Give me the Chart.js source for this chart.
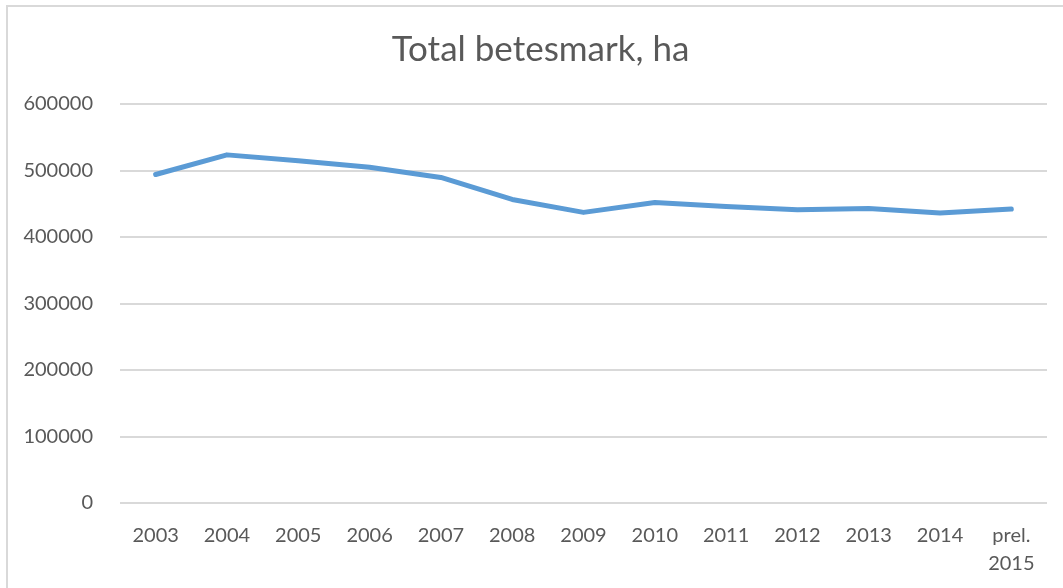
<!DOCTYPE html>
<html>
<head>
<meta charset="utf-8">
<title>Total betesmark, ha</title>
<script src="https://cdn.jsdelivr.net/npm/chart.js@4/dist/chart.umd.min.js"></script>
<style>
    html, body { margin: 0; padding: 0; background: #fff; }
    #wrap { width: 1063px; height: 588px; }
</style>
</head>
<body>
<div id="wrap"><canvas id="betesChart" width="1063" height="588"></canvas></div>
<script>
/* Data */
const years = ["2003", "2004", "2005", "2006", "2007", "2008", "2009",
    "2010", "2011", "2012", "2013", "2014", ["prel.", "2015"]];
const hectares = [494000, 523500, 514500, 505000, 489500, 456500, 437000,
    452000, 446000, 440800, 443000, 436200, 442000];
const yTicks = [0, 100000, 200000, 300000, 400000, 500000, 600000];

const textColor = "#595959";
const gridColor = "#d9d9d9";

// light frame around the chart, like the office chart border
const framePlugin = {
    id: "frame",
    afterLayout(chart) {
        // original chart is cropped on the right, so its title sits a bit right of centre
        if (chart.titleBlock) chart.titleBlock.left += 34;
    },
    beforeDraw(chart) {
        const ctx = chart.ctx;
        ctx.save();
        ctx.strokeStyle = gridColor;
        ctx.lineWidth = 2;
        ctx.strokeRect(7, 6, chart.width + 20, chart.height + 20);
        ctx.restore();
    }
};

const el = document.getElementById("betesChart");
new Chart(el, {
    type: "line",
    data: {
        labels: years,
        datasets: [{
            label: "Total betesmark, ha",
            data: hectares,
            borderColor: "#5b9bd5",
            backgroundColor: "#5b9bd5",
            borderWidth: 5,
            borderCapStyle: "round",
            borderJoinStyle: "round",
            pointRadius: 0,
            tension: 0,
            fill: false
        }]
    },
    options: {
        responsive: false,
        animation: false,
        layout: {
            padding: { left: 0, right: 16, top: 0, bottom: 0 }
        },
        plugins: {
            legend: { display: false },
            tooltip: { enabled: false },
            title: {
                display: true,
                text: "Total betesmark, ha",
                color: textColor,
                font: { family: "Lato", size: 35, weight: "normal" },
                padding: { top: 29, bottom: 33 }
            }
        },
        scales: {
            x: {
                offset: true,
                grid: { display: false },
                border: { display: false },
                ticks: {
                    color: textColor,
                    font: { family: "Lato", size: 20, lineHeight: 1.4 },
                    padding: 11,
                    maxRotation: 0,
                    autoSkip: false
                },
                afterFit: (scale) => { scale.height = 85; }
            },
            y: {
                min: 0,
                max: 600000,
                afterBuildTicks: (scale) => {
                    scale.ticks = yTicks.map(v => ({ value: v }));
                },
                grid: { color: gridColor, lineWidth: 2, drawTicks: false },
                border: { display: false },
                ticks: {
                    color: textColor,
                    font: { family: "Lato", size: 20 },
                    padding: 27,
                    callback: (v) => String(v)
                },
                afterFit: (scale) => { scale.width = 120; }
            }
        }
    },
    plugins: [framePlugin]
});
</script>
</body>
</html>
